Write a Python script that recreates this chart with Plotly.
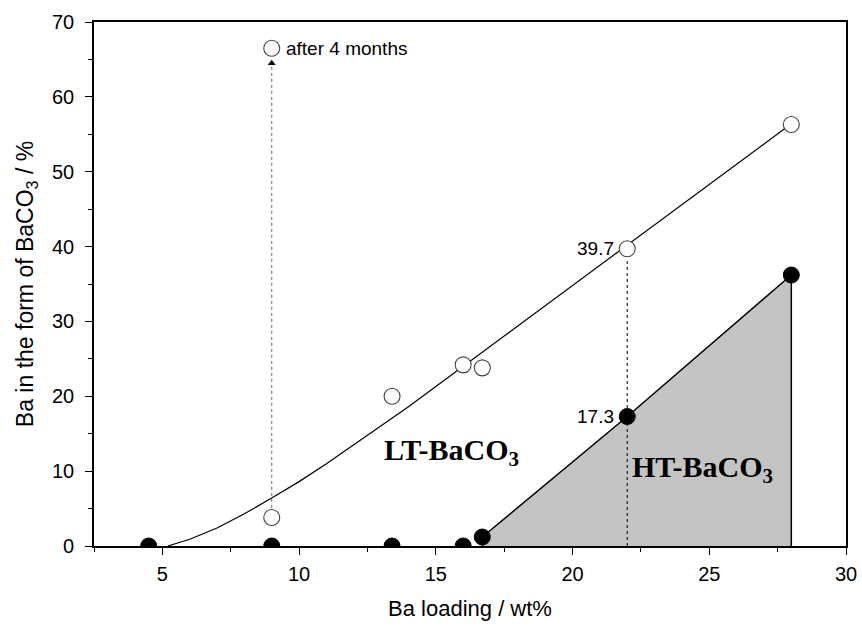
import plotly.graph_objects as go

# Ba loading (wt%) of each sample
ba_loading = [4.5, 9.0, 13.4, 16.0, 16.7, 22.0, 28.0]
# Ba present as high-temperature BaCO3 (%)
ht_baco3 = [0.0, 0.0, 0.0, 0.0, 1.2, 17.3, 36.2]

# Total Ba present as BaCO3 (%)
total_loading = [9.0, 13.4, 16.0, 16.7, 22.0, 28.0]
total_baco3 = [3.8, 20.0, 24.2, 23.8, 39.7, 56.3]

# Sample re-measured after ageing
aged_loading = [9.0]
aged_baco3 = [66.5]

# Smoothed trend through the total BaCO3 values
trend_x = [5.2, 6, 7, 8, 9, 10, 11, 12, 13, 14, 15, 16, 17, 18, 19, 20,
           21, 22, 23, 24, 25, 26, 27, 28]
trend_y = [0.0, 0.9, 2.4, 4.3, 6.4, 8.6, 11.0, 13.5, 16.0, 18.6, 21.3, 24.0,
           26.7, 29.4, 32.1, 34.8, 37.5, 40.2, 42.9, 45.6, 48.3, 51.0, 53.7, 56.4]

x_ticks = [5, 10, 15, 20, 25, 30]
y_ticks = [0, 10, 20, 30, 40, 50, 60, 70]

ht_start = 4  # first sample with HT-BaCO3
mark_idx = 5  # sample at 22 wt%

fig = go.Figure()

# Shaded HT-BaCO3 region
poly_x = [ba_loading[ht_start]] + ba_loading[ht_start:] + [ba_loading[-1]]
poly_y = [0.0] + ht_baco3[ht_start:] + [0.0]
fig.add_trace(go.Scatter(x=poly_x, y=poly_y, mode="lines", fill="toself",
                         fillcolor="#c4c4c4", line=dict(color="black", width=1.5),
                         hoverinfo="skip"))

# Dashed guide at 22 wt%
fig.add_trace(go.Scatter(x=[ba_loading[mark_idx]] * 2, y=[0, total_baco3[4] - 1.3],
                         mode="lines", line=dict(color="black", width=1, dash="dot")))

# Dotted guide for the aged sample
fig.add_trace(go.Scatter(x=[aged_loading[0]] * 2, y=[total_baco3[0] + 1.3, aged_baco3[0] - 2.0],
                         mode="lines", line=dict(color="#666666", width=1, dash="dot")))
fig.add_trace(go.Scatter(x=aged_loading, y=[aged_baco3[0] - 2.0], mode="markers",
                         marker=dict(symbol="triangle-up", size=7, color="black")))

# Trend line
fig.add_trace(go.Scatter(x=trend_x, y=trend_y, mode="lines",
                         line=dict(color="black", width=1.2)))

# Open circles: total BaCO3
fig.add_trace(go.Scatter(x=total_loading + aged_loading, y=total_baco3 + aged_baco3,
                         mode="markers", cliponaxis=True,
                         marker=dict(symbol="circle", size=16, color="white",
                                     line=dict(color="#444444", width=1.1))))

# Filled circles: HT-BaCO3
fig.add_trace(go.Scatter(x=ba_loading, y=ht_baco3, mode="markers", cliponaxis=True,
                         marker=dict(symbol="circle", size=16, color="black",
                                     line=dict(color="black", width=1))))

sans = "Liberation Sans, Arial, sans-serif"
serif = "Liberation Serif, Times New Roman, serif"

fig.add_annotation(x=aged_loading[0], y=aged_baco3[0], text="after 4 months",
                   showarrow=False, xanchor="left", xshift=12,
                   font=dict(family=sans, size=19, color="black"))
fig.add_annotation(x=ba_loading[mark_idx], y=total_baco3[4], text=f"{total_baco3[4]}",
                   showarrow=False, xanchor="right", xshift=-11,
                   font=dict(family=sans, size=19, color="black"))
fig.add_annotation(x=ba_loading[mark_idx], y=ht_baco3[mark_idx], text=f"{ht_baco3[mark_idx]}",
                   showarrow=False, xanchor="right", xshift=-11,
                   font=dict(family=sans, size=19, color="black"))
fig.add_annotation(x=15.57, y=12.5, text="<b>LT-BaCO<sub>3</sub></b>", showarrow=False,
                   font=dict(family=serif, size=30, color="black"))
fig.add_annotation(x=24.76, y=10.3, text="<b>HT-BaCO<sub>3</sub></b>", showarrow=False,
                   font=dict(family=serif, size=30, color="black"))

axis_common = dict(showline=True, linecolor="black", linewidth=1.6, mirror=True,
                   ticks="outside", ticklen=7, tickwidth=1.4, tickcolor="black",
                   showgrid=False, zeroline=False, automargin=False,
                   tickfont=dict(family=sans, size=20, color="black"))

fig.update_xaxes(range=[2.5, 30], tickvals=x_ticks, ticklabelstandoff=2,
                 minor=dict(dtick=2.5, tick0=0, ticks="outside", ticklen=4,
                            tickcolor="black", tickwidth=1.2),
                 title=dict(text="Ba loading / wt%", font=dict(family=sans, size=22, color="black"),
                            standoff=17),
                 **axis_common)
fig.update_yaxes(range=[0, 70], tickvals=y_ticks, ticklabelstandoff=7,
                 minor=dict(dtick=5, tick0=0, ticks="outside", ticklen=4,
                            tickcolor="black", tickwidth=1.2),
                 title=dict(text="Ba in the form of BaCO<sub>3</sub> / %",
                            font=dict(family=sans, size=23, color="black"), standoff=12),
                 **axis_common)

fig.update_layout(width=862, height=626, showlegend=False,
                  plot_bgcolor="white", paper_bgcolor="white",
                  margin=dict(l=94, r=16, t=22, b=80))

fig.write_html("out.html")
